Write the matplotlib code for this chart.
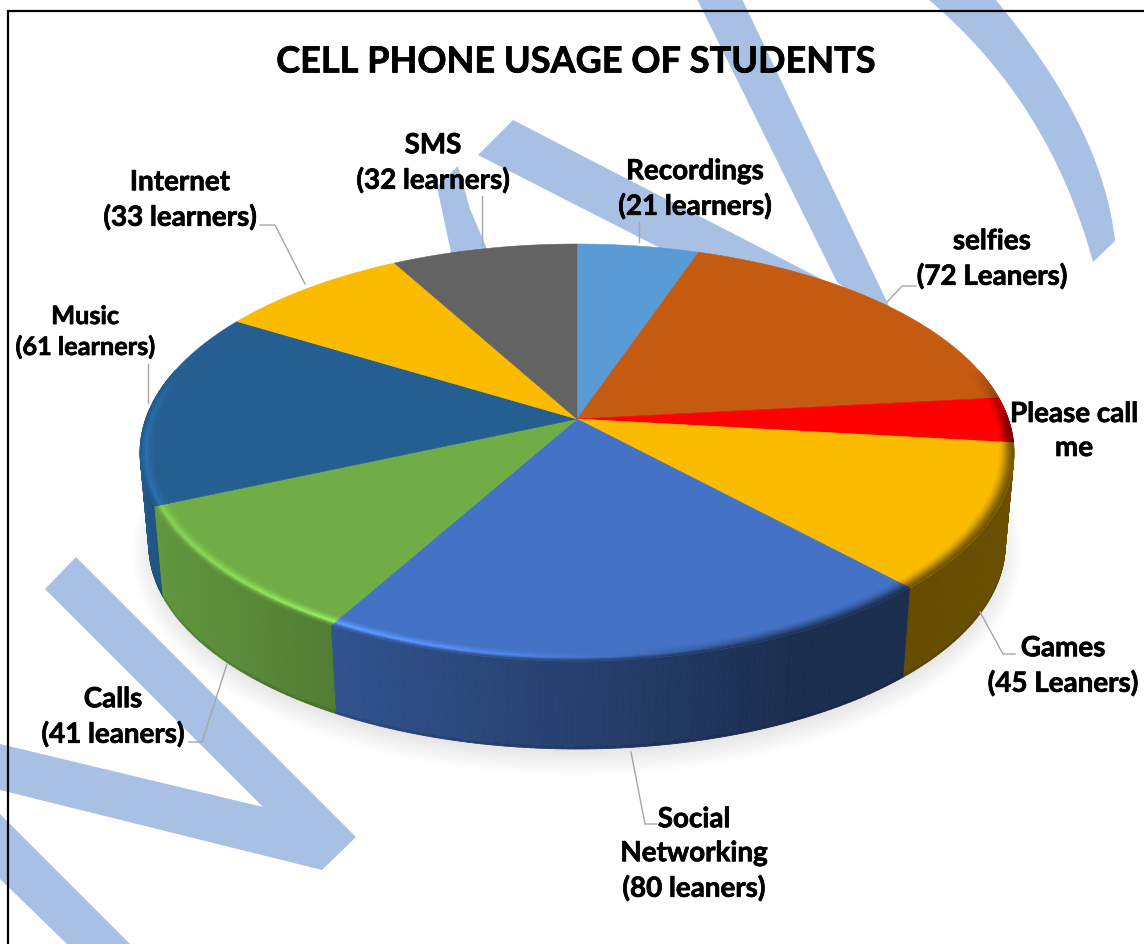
#!/usr/bin/env python3
import numpy as np
import matplotlib
matplotlib.use('Agg')
import matplotlib.pyplot as plt
import matplotlib.patheffects as pe
from matplotlib.collections import PolyCollection
from matplotlib.colors import to_rgb
from matplotlib.patches import Ellipse, PathPatch, Polygon
from matplotlib.path import Path

# clockwise from twelve o'clock
categories = ['Recordings', 'selfies', 'Please call me', 'Games', 'Social Networking',
              'Calls', 'Music', 'Internet', 'SMS']
learners = [21, 72, 14, 45, 80, 41, 61, 33, 32]
slice_colors = ['#5B9BD5', '#C55A11', '#FF0000', '#FBBC00', '#4472C4',
                '#70AD47', '#255E91', '#FBBC00', '#636363']
labels = ['Recordings\n(21 learners)', 'selfies\n(72 Leaners)', 'Please call\nme',
          'Games\n(45 Leaners)', 'Social\nNetworking\n(80 leaners)', 'Calls\n(41 leaners)',
          'Music\n(61 learners)', 'Internet\n(33 learners)', 'SMS\n(32 learners)']
label_pos = [(695, 190), (992, 260), (1074, 432), (1063, 667), (694, 855), (113, 718),
             (85, 333), (180, 201), (433, 164)]
label_size = [20, 20, 20, 20, 20, 20, 18.2, 20, 20]
leaders = [[(639, 223), (639, 243)],
           [(887, 303), (902, 287), (916, 287)],
           [(980, 613), (1003, 655), (1015, 655)],
           [(631, 753), (645, 825), (657, 825)],
           [(227, 665), (202, 743), (189, 743)],
           [(148, 365), (148, 404)],
           [(305, 285), (275, 226), (260, 226)],
           [(482, 197), (482, 246)]]

# perspective of the pie's top plane, in pixels
cx, cy = 577, 420
persp = 0.1606
ax_x, ax_y = 431.3, 203.1
# bottom outline is the top one scaled about these centres
ell_y, bottom_y, bottom_scale = 453.5, 545.7, 0.98
rim_in = 0.965

WATERMARK = '#A9C0E5'
strokes = [
    [(697, 0), (742, 0), (900, 330), (837, 283)],
    [(513, 121), (478, 156), (760, 300), (860, 300)],
    [(458, 167), (437, 188), (452, 258), (488, 252), (470, 210)],
    [(76, 558), (45, 590), (263, 808), (0, 745), (0, 791), (322, 871), (356, 838)],
    [(0, 815), (130, 945), (67, 945), (0, 880)],
]
# curved stroke at the top right
arc_verts = [(928, 0), (1049.5, 102.5), (1093, 263), (1115, 242), (1103, 129), (995, 0), (928, 0)]
arc_codes = [Path.MOVETO, Path.CURVE3, Path.CURVE3, Path.LINETO, Path.CURVE3, Path.CURVE3, Path.CLOSEPOLY]


def top_xy(theta, r=1.0):
    u, v = r * np.sin(theta), r * np.cos(theta)
    w = 1 + persp * v
    return cx + ax_x * u / w, cy - ax_y * v / w


def bottom_xy(x, y):
    return cx + (x - cx) * bottom_scale, bottom_y + (y - ell_y) * bottom_scale


def shade(rgb, f):
    return tuple(np.clip(np.array(rgb) * f, 0, 1))


def side_factor(x):
    return np.interp(x, [140, 160, 340, 577, 800, 900, 1014], [0.95, 0.86, 0.72, 0.56, 0.40, 0.40, 0.42])


def rim_factor(x):
    return np.interp(x, [140, 340, 480, 640, 780, 1014], [1.2, 1.42, 1.25, 0.95, 0.65, 0.6])


fig = plt.figure(figsize=(11.44, 9.45), dpi=100)
ax = fig.add_axes([0, 0, 1, 1])
ax.set_xlim(0, 1144)
ax.set_ylim(945, 0)
ax.axis('off')

for pts in strokes:
    ax.add_patch(Polygon(pts, closed=True, fc=WATERMARK, ec='none', zorder=1))
ax.add_patch(PathPatch(Path(arc_verts, arc_codes), fc=WATERMARK, ec='none', zorder=1))

# soft shadow under the pie
for grow in np.linspace(18, -8, 26):
    ax.add_patch(Ellipse((cx, bottom_y + 8), 2 * (428 + grow), 2 * (205 + grow),
                         fc='black', ec='none', alpha=0.005, zorder=2))

fractions = np.array(learners) / sum(learners)
edges = np.concatenate([[0], np.cumsum(fractions)]) * 2 * np.pi

# side wall
side_polys, side_cols, side_depth = [], [], []
for i, col in enumerate(slice_colors):
    rgb = to_rgb(col)
    th = np.linspace(edges[i], edges[i + 1], max(int(fractions[i] * 500), 3))
    for t0, t1 in zip(th[:-1], th[1:]):
        if np.cos(0.5 * (t0 + t1)) > 0.25:
            continue
        x0, y0 = top_xy(t0)
        x1, y1 = top_xy(t1)
        bx0, by0 = bottom_xy(x0, y0)
        bx1, by1 = bottom_xy(x1, y1)
        mx0, my0 = x0 + (bx0 - x0) * 0.97, y0 + (by0 - y0) * 0.97
        mx1, my1 = x1 + (bx1 - x1) * 0.97, y1 + (by1 - y1) * 0.97
        f = float(side_factor(0.5 * (x0 + x1)))
        side_polys.append([(x0, y0), (x1, y1), (mx1, my1), (mx0, my0)])
        side_cols.append(shade(rgb, f))
        side_depth.append(0.5 * (y0 + y1))
        side_polys.append([(mx0, my0), (mx1, my1), (bx1, by1), (bx0, by0)])
        side_cols.append(shade(rgb, f * 0.88))
        side_depth.append(0.5 * (y0 + y1))
order = np.argsort(side_depth)
ax.add_collection(PolyCollection([side_polys[j] for j in order],
                                 facecolors=[side_cols[j] for j in order],
                                 edgecolors='face', linewidths=0.6, zorder=3))

# top face
for i, col in enumerate(slice_colors):
    th = np.linspace(edges[i], edges[i + 1], 120)
    x, y = top_xy(th)
    pts = [(cx, cy)] + list(zip(x, y))
    ax.add_patch(Polygon(pts, closed=True, fc=col, ec=col, lw=0.4, zorder=4))

# bevel along the front rim, fades out towards the back
rim_polys, rim_cols = [], []
rings = np.linspace(rim_in, 1.0, 11)
for i, col in enumerate(slice_colors):
    rgb = to_rgb(col)
    th = np.linspace(edges[i], edges[i + 1], max(int(fractions[i] * 500), 3))
    for t0, t1 in zip(th[:-1], th[1:]):
        tm = 0.5 * (t0 + t1)
        strength = np.clip((0.25 - np.cos(tm)) / 0.3, 0, 1)
        if strength <= 0:
            continue
        xm, _ = top_xy(tm)
        peak = 1 + (float(rim_factor(xm)) - 1) * strength
        low = 1 + (float(side_factor(xm)) - 1) * strength
        for j in range(len(rings) - 1):
            pos = (j + 0.5) / (len(rings) - 1)
            if pos < 0.65:
                f = 1 + (peak - 1) * (pos / 0.65) ** 1.5
            else:
                f = peak + (low - peak) * (pos - 0.65) / 0.35
            ax0, ay0 = top_xy(t0, rings[j])
            ax1, ay1 = top_xy(t1, rings[j])
            bx0, by0 = top_xy(t0, rings[j + 1])
            bx1, by1 = top_xy(t1, rings[j + 1])
            rim_polys.append([(ax0, ay0), (ax1, ay1), (bx1, by1), (bx0, by0)])
            rim_cols.append(shade(rgb, f))
ax.add_collection(PolyCollection(rim_polys, facecolors=rim_cols, edgecolors='face',
                                 linewidths=0.4, zorder=5))

for pts in leaders:
    xs, ys = zip(*pts)
    ax.plot(xs, ys, color='#A6A6A6', lw=1.0, zorder=6, solid_joinstyle='miter')

thicker = [pe.withStroke(linewidth=0.5, foreground='black')]
for txt, (lx, ly), size in zip(labels, label_pos, label_size):
    ax.text(lx, ly, txt, ha='center', va='center', family='Lato', weight='bold',
            fontsize=size, color='black', linespacing=1.38, zorder=7, path_effects=thicker)

ax.text(576, 63, 'CELL PHONE USAGE OF STUDENTS', ha='center', va='center', family='Lato',
        weight='bold', fontsize=26, color='black', zorder=7, path_effects=thicker)

# frame: only the top and left edges fall inside the canvas
ax.plot([8, 8, 1144], [945, 12, 12], color='black', lw=1.6, zorder=8, solid_joinstyle='miter')

fig.savefig('out.png', dpi=100, facecolor='white')
